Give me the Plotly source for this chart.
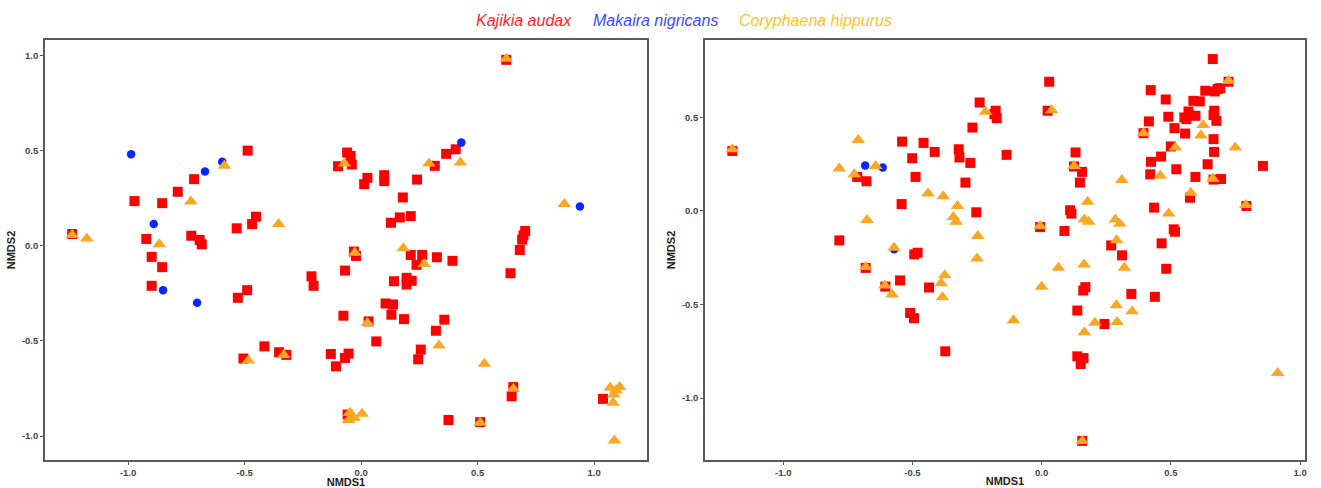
import plotly.graph_objects as go

# ---------------- Left panel data ----------------
left_kajikia_x = [0.623, -0.487, -0.717, -0.787, -0.973, -0.854, -0.534, -0.468, -0.451, -1.240,
                  -0.922, -0.729, -0.693, -0.684, -0.899, -0.854, -0.899, -0.529, -0.489, -0.415,
                  -0.505, -0.352, -0.321, -0.213, -0.204, -0.130, -0.108, -0.069, -0.054, -0.069,
                  -0.076, -0.099, -0.060, -0.045, -0.040, -0.031, -0.022, 0.013, 0.027, 0.099,
                  0.099, 0.240, 0.179, 0.128, 0.166, 0.213, 0.213, 0.262, 0.238, 0.325,
                  0.392, 0.141, 0.195, 0.217, 0.195, 0.105, 0.137, 0.130, 0.184, 0.032,
                  0.357, 0.321, 0.065, 0.256, 0.245, 0.316, 0.365, 0.406, 0.704, 0.697,
                  0.691, 0.681, 0.641, 0.653, 0.646, 0.375, 0.511, 1.038, -0.058]
left_kajikia_y = [0.976, 0.499, 0.349, 0.283, 0.234, 0.223, 0.091, 0.113, 0.152, 0.061,
                  0.035, 0.052, 0.030, 0.007, -0.059, -0.113, -0.211, -0.274, -0.234, -0.529,
                  -0.593, -0.560, -0.574, -0.161, -0.211, -0.569, -0.634, -0.590, -0.567, -0.131,
                  -0.368, 0.417, 0.489, 0.471, 0.426, -0.031, -0.054, 0.323, 0.356, 0.370,
                  0.339, 0.347, 0.253, 0.120, 0.148, 0.155, -0.049, -0.049, -0.101, -0.061,
                  -0.080, -0.187, -0.169, -0.185, -0.204, -0.304, -0.309, -0.363, -0.386, -0.398,
                  -0.389, -0.447, -0.503, -0.546, -0.597, 0.419, 0.482, 0.506, 0.077, 0.054,
                  0.031, -0.023, -0.145, -0.743, -0.791, -0.916, -0.927, -0.805, -0.887]

left_makaira_x = [-0.987, -0.596, -0.670, -0.890, -0.850, -0.704, 0.430, 0.939]
left_makaira_y = [0.480, 0.440, 0.389, 0.113, -0.234, -0.300, 0.541, 0.206]

left_coryphaena_x = [0.623, -0.587, -0.731, -0.354, -1.240, -1.177, -0.866, -0.072, 0.291, 0.426,
                     0.872, -0.027, 0.181, 0.271, 0.027, 0.334, 0.529, 0.653, -0.484, -0.332,
                     -0.049, 0.004, -0.054, -0.031, 0.511, 1.069, 1.094, 1.110, 1.085, 1.081, 1.087]
left_coryphaena_y = [0.981, 0.419, 0.232, 0.113, 0.056, 0.037, 0.007, 0.431, 0.431, 0.436,
                     0.218, -0.037, -0.014, -0.096, -0.407, -0.524, -0.620, -0.752, -0.604, -0.574,
                     -0.878, -0.883, -0.916, -0.904, -0.930, -0.747, -0.759, -0.743, -0.782, -0.825, -1.023]

# ---------------- Right panel data ----------------
right_kajikia_x = [-1.197, -0.783, -0.714, -0.678, -0.681, -0.605, -0.540, -0.501, -0.488, -0.542,
                   -0.457, -0.414, -0.321, -0.318, -0.276, -0.295, -0.253, -0.548, -0.493, -0.480,
                   -0.436, -0.509, -0.494, -0.373, -0.240, -0.268, -0.178, -0.183, -0.174, -0.136,
                   0.029, 0.023, -0.006, 0.088, 0.131, 0.125, 0.156, 0.148, 0.110, 0.115,
                   0.269, 0.311, 0.169, 0.161, 0.138, 0.347, 0.243, 0.138, 0.162, 0.151,
                   0.157, 0.394, 0.415, 0.422, 0.480, 0.490, 0.514, 0.500, 0.462, 0.423,
                   0.420, 0.521, 0.435, 0.464, 0.482, 0.511, 0.516, 0.438, 0.555, 0.552,
                   0.568, 0.560, 0.595, 0.587, 0.612, 0.595, 0.574, 0.633, 0.642, 0.662,
                   0.668, 0.665, 0.665, 0.667, 0.676, 0.665, 0.694, 0.670, 0.681, 0.691,
                   0.723, 0.792, 0.856]
right_kajikia_y = [0.321, -0.157, 0.182, 0.159, -0.304, -0.404, 0.371, 0.282, 0.182, 0.037,
                   0.364, 0.316, 0.330, 0.286, 0.257, 0.152, -0.007, -0.371, -0.232, -0.223,
                   -0.409, -0.545, -0.573, -0.750, 0.580, 0.446, 0.536, 0.518, 0.496, 0.300,
                   0.691, 0.536, -0.086, -0.107, 0.313, 0.238, 0.209, 0.152, 0.004, -0.014,
                   -0.184, -0.237, -0.407, -0.425, -0.532, -0.443, -0.604, -0.777, -0.786, -0.818,
                   -1.229, 0.416, 0.479, 0.646, 0.596, 0.504, 0.443, 0.345, 0.291, 0.263,
                   0.196, 0.223, 0.018, -0.173, -0.309, -0.098, -0.111, -0.459, 0.414, 0.500,
                   0.532, 0.491, 0.509, 0.589, 0.586, 0.182, 0.071, 0.643, 0.250, 0.812,
                   0.536, 0.513, 0.384, 0.316, 0.482, 0.168, 0.171, 0.639, 0.652, 0.657,
                   0.691, 0.027, 0.241]

right_makaira_x = [-0.683, -0.615, -0.571]
right_makaira_y = [0.243, 0.232, -0.205]

right_coryphaena_x = [-1.197, -0.710, -0.783, -0.725, -0.642, -0.676, -0.571, -0.681, -0.607, -0.579,
                      -0.440, -0.381, -0.326, -0.342, -0.331, -0.247, -0.250, -0.375, -0.389, -0.384,
                      -0.109, -0.217, 0.039, 0.125, -0.006, 0.000, 0.065, 0.178, 0.165, 0.182,
                      0.310, 0.285, 0.302, 0.290, 0.320, 0.164, 0.206, 0.165, 0.289, 0.292,
                      0.350, 0.157, 0.394, 0.517, 0.459, 0.491, 0.577, 0.616, 0.625, 0.662,
                      0.723, 0.749, 0.790, 0.913]
right_coryphaena_y = [0.330, 0.379, 0.227, 0.196, 0.241, -0.048, -0.196, -0.300, -0.398, -0.446,
                      0.093, 0.079, 0.027, -0.032, -0.057, -0.134, -0.254, -0.343, -0.386, -0.461,
                      -0.584, 0.530, 0.539, 0.241, -0.080, -0.405, -0.304, 0.050, -0.046, -0.057,
                      0.166, -0.045, -0.068, -0.157, -0.304, -0.286, -0.598, -0.648, -0.504, -0.593,
                      -0.536, -1.229, 0.416, 0.339, 0.188, -0.014, 0.098, 0.404, 0.459, 0.173,
                      0.696, 0.339, 0.032, -0.866]

species = ["Kajikia audax", "Makaira nigricans", "Coryphaena hippurus"]
marker_colors = ["#FF0000", "#0A28F5", "#F9A825"]
text_colors = ["#FF1E1E", "#3A4BFF", "#FFC326"]
symbols = ["square", "circle", "triangle-up"]
sizes = [10, 8.5, 12]

panels = [
    ("x", "y", [(left_kajikia_x, left_kajikia_y), (left_makaira_x, left_makaira_y),
                (left_coryphaena_x, left_coryphaena_y)]),
    ("x2", "y2", [(right_kajikia_x, right_kajikia_y), (right_makaira_x, right_makaira_y),
                  (right_coryphaena_x, right_coryphaena_y)]),
]

fig = go.Figure()
for xa, ya, series in panels:
    for i, (xs, ys) in enumerate(series):
        fig.add_trace(go.Scatter(
            x=xs, y=ys, mode="markers", name=species[i], showlegend=False,
            xaxis=xa, yaxis=ya,
            marker=dict(symbol=symbols[i], size=sizes[i], color=marker_colors[i],
                        line=dict(width=0)),
        ))

W, H = 1321, 488
tickfont = dict(family="Liberation Sans, Arial, sans-serif", size=9.5, color="#444444", weight="bold")
titlefont = dict(family="Liberation Sans, Arial, sans-serif", size=11, color="#222222", weight="bold")
axis_common = dict(showgrid=False, zeroline=False, showline=True, mirror=True,
                   linecolor="#5a5a5a", linewidth=1.5, ticks="outside", ticklen=3,
                   tickcolor="#5a5a5a", tickwidth=1, tickfont=tickfont,
                   tickvals=[-1.0, -0.5, 0.0, 0.5, 1.0],
                   ticktext=["-1.0", "-0.5", "0.0", "0.5", "1.0"])

ydom = [(H - 460) / H, (H - 40) / H]
fig.update_layout(
    width=W, height=H,
    margin=dict(l=0, r=0, t=0, b=0),
    paper_bgcolor="white", plot_bgcolor="white",
    xaxis=dict(axis_common, domain=[45 / W, 648 / W], range=[-1.357, 1.227], anchor="y",
               title=dict(text="NMDS1", font=titlefont, standoff=0)),
    yaxis=dict(axis_common, domain=ydom, range=[-1.126, 1.080], anchor="x",
               title=dict(text="NMDS2", font=titlefont, standoff=4)),
    xaxis2=dict(axis_common, domain=[706 / W, 1307 / W], range=[-1.303, 1.019], anchor="y2",
                title=dict(text="NMDS1", font=titlefont, standoff=0)),
    yaxis2=dict(axis_common, domain=ydom, range=[-1.331, 0.914], anchor="x2",
                title=dict(text="NMDS2", font=titlefont, standoff=4)),
)

title_centers = [525, 656, 817]
for name, col, cx in zip(species, text_colors, title_centers):
    fig.add_annotation(text=f"<i>{name}</i>", x=cx / W, y=1 - 20 / H, xref="paper", yref="paper",
                       xanchor="center", yanchor="middle", showarrow=False,
                       font=dict(family="Liberation Sans, Arial, sans-serif", size=16, color=col))

fig.write_html("out.html", config={"displayModeBar": False})

# remove the browser's default page margin so the figure fills the window exactly
with open("out.html", "r", encoding="utf-8") as f:
    html = f.read()
html = html.replace("<head>", "<head><style>html,body{margin:0;padding:0;overflow:hidden;}</style>", 1)
with open("out.html", "w", encoding="utf-8") as f:
    f.write(html)
